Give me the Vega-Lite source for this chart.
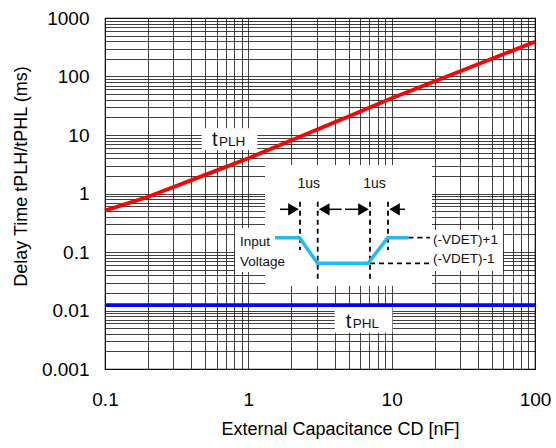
{
  "$schema": "https://vega.github.io/schema/vega-lite/v6.json",
  "width": 430,
  "height": 351,
  "autosize": {"type": "none"},
  "padding": {"left": 105, "top": 18, "right": 21, "bottom": 79},
  "background": "white",
  "config": {
    "font": "Liberation Sans",
    "view": {"stroke": "#000", "strokeWidth": 1.2},
    "axis": {
      "grid": true,
      "gridColor": "#111",
      "gridOpacity": 0.8,
      "gridWidth": 1,
      "ticks": false,
      "domain": false,
      "labelFont": "Liberation Sans",
      "labelFontSize": 19,
      "labelColor": "#000",
      "titleFont": "Liberation Sans",
      "titleFontSize": 18,
      "titleFontWeight": "normal",
      "titleColor": "#000"
    }
  },
  "datasets": {
    "red": [
      {"x": 0.1, "y": 0.51}, {"x": 0.2, "y": 0.88}, {"x": 0.5, "y": 2.08}, {"x": 1, "y": 4.0},
      {"x": 2, "y": 8.1}, {"x": 5, "y": 20.8}, {"x": 10, "y": 42.4}, {"x": 20, "y": 83},
      {"x": 50, "y": 201}, {"x": 100, "y": 394}
    ],
    "blue": [{"x": 0.1, "y": 0.0124}, {"x": 100, "y": 0.0124}],
    "boxes": [
      {"x": 1.307, "x2": 19.11, "y": 3.07, "y2": 0.02623},
      {"x": 0.807, "x2": 1.307, "y": 0.2572, "y2": 0.04549},
      {"x": 18.82, "x2": 59.8, "y": 0.2377, "y2": 0.04733},
      {"x": 0.4728, "x2": 1.155, "y": 13.02, "y2": 5.54},
      {"x": 4.006, "x2": 10.12, "y": 0.0116, "y2": 0.00417}
    ],
    "wave": [
      {"x": 1.535, "y": 0.1755}, {"x": 2.275, "y": 0.1755}, {"x": 3.039, "y": 0.0641},
      {"x": 6.838, "y": 0.0641}, {"x": 9.385, "y": 0.1755}, {"x": 13.07, "y": 0.1755}
    ],
    "vdash": [
      {"x": 2.294, "y": 0.724, "y2": 0.1082},
      {"x": 3.048, "y": 0.724, "y2": 0.0332},
      {"x": 7.062, "y": 0.724, "y2": 0.0332},
      {"x": 9.43, "y": 0.724, "y2": 0.1082}
    ],
    "hdash": [
      {"x": 13.07, "x2": 18.52, "y": 0.1755},
      {"x": 7.062, "x2": 18.52, "y": 0.0641}
    ],
    "shafts": [
      {"x": 1.663, "x2": 2.2, "y": 0.537},
      {"x": 3.2, "x2": 4.481, "y": 0.537},
      {"x": 4.726, "x2": 6.6, "y": 0.537},
      {"x": 9.9, "x2": 12.39, "y": 0.537}
    ],
    "heads": [
      {"x": 2.066, "y": 0.537, "dir": "right"},
      {"x": 3.383, "y": 0.537, "dir": "left"},
      {"x": 6.361, "y": 0.537, "dir": "right"},
      {"x": 10.47, "y": 0.537, "dir": "left"}
    ],
    "small": [
      {"x": 0.875, "y": 0.1483, "label": "Input"},
      {"x": 0.875, "y": 0.0662, "label": "Voltage"},
      {"x": 19.43, "y": 0.1603, "label": "(-VDET)+1"},
      {"x": 19.43, "y": 0.075, "label": "(-VDET)-1"}
    ],
    "us": [
      {"x": 2.642, "y": 1.453, "label": "1us"},
      {"x": 7.591, "y": 1.453, "label": "1us"}
    ],
    "bigt": [
      {"x": 0.5578, "y": 6.56, "label": "t"},
      {"x": 4.778, "y": 0.004961, "label": "t"}
    ],
    "sub": [
      {"x": 0.6242, "y": 6.56, "label": "PLH"},
      {"x": 5.349, "y": 0.004961, "label": "PHL"}
    ]
  },
  "encoding": {
    "x": {
      "field": "x",
      "type": "quantitative",
      "scale": {"type": "log", "domain": [0.1, 100], "nice": false},
      "axis": {
        "title": "External Capacitance CD [nF]",
        "values": [0.1, 0.2, 0.3, 0.4, 0.5, 0.6, 0.7, 0.8, 0.9, 1, 2, 3, 4, 5, 6, 7, 8, 9, 10, 20, 30, 40, 50, 60, 70, 80, 90, 100],
        "format": "~g",
        "labelExpr": "indexof(['0.1','1','10','100'], datum.label) >= 0 ? datum.label : ''",
        "labelPadding": 21,
        "labelFlush": false,
        "labelOverlap": false,
        "titlePadding": 11,
        "titleX": 235
      }
    },
    "y": {
      "field": "y",
      "type": "quantitative",
      "scale": {"type": "log", "domain": [0.001, 1000], "nice": false},
      "axis": {
        "title": "Delay Time tPLH/tPHL (ms)",
        "values": [0.001, 0.002, 0.003, 0.004, 0.005, 0.006, 0.007, 0.008, 0.009, 0.01, 0.02, 0.03, 0.04, 0.05, 0.06, 0.07, 0.08, 0.09, 0.1, 0.2, 0.3, 0.4, 0.5, 0.6, 0.7, 0.8, 0.9, 1, 2, 3, 4, 5, 6, 7, 8, 9, 10, 20, 30, 40, 50, 60, 70, 80, 90, 100, 200, 300, 400, 500, 600, 700, 800, 900, 1000],
        "format": "~g",
        "labelExpr": "indexof(['0.001','0.01','0.1','1','10','100','1000'], datum.label) >= 0 ? datum.label : ''",
        "labelPadding": 16,
        "labelFlush": false,
        "labelOverlap": false,
        "titlePadding": 11,
        "titleY": 158
      }
    }
  },
  "layer": [
    {
      "data": {"name": "boxes"},
      "mark": {"type": "rect", "fill": "white", "stroke": null},
      "encoding": {"x2": {"field": "x2"}, "y2": {"field": "y2"}}
    },
    {
      "data": {"name": "vdash"},
      "mark": {"type": "rule", "color": "black", "strokeWidth": 1.8, "strokeDash": [5, 4]},
      "encoding": {"y2": {"field": "y2"}}
    },
    {
      "data": {"name": "hdash"},
      "mark": {"type": "rule", "color": "black", "strokeWidth": 1.8, "strokeDash": [5, 4]},
      "encoding": {"x2": {"field": "x2"}}
    },
    {
      "data": {"name": "shafts"},
      "mark": {"type": "rule", "color": "black", "strokeWidth": 1.5},
      "encoding": {"x2": {"field": "x2"}}
    },
    {
      "data": {"name": "heads"},
      "mark": {"type": "point", "filled": true, "color": "black", "opacity": 1, "size": 150},
      "encoding": {
        "shape": {"field": "dir", "type": "nominal", "scale": {"domain": ["right", "left"], "range": ["triangle-right", "triangle-left"]}, "legend": null}
      }
    },
    {
      "data": {"name": "wave"},
      "mark": {"type": "line", "color": "#1cbdf0", "strokeWidth": 3.5, "strokeCap": "butt"},
      "encoding": {}
    },
    {
      "data": {"name": "red"},
      "mark": {"type": "line", "color": "#ff0000", "strokeWidth": 3.8, "clip": false},
      "encoding": {}
    },
    {
      "data": {"name": "blue"},
      "mark": {"type": "line", "color": "#0000ff", "strokeWidth": 3.8, "clip": false},
      "encoding": {}
    },
    {
      "data": {"name": "small"},
      "mark": {"type": "text", "align": "left", "baseline": "middle", "fontSize": 13.5, "color": "#111"},
      "encoding": {"text": {"field": "label"}}
    },
    {
      "data": {"name": "us"},
      "mark": {"type": "text", "align": "center", "baseline": "middle", "fontSize": 14, "color": "#111"},
      "encoding": {"text": {"field": "label"}}
    },
    {
      "data": {"name": "bigt"},
      "mark": {"type": "text", "align": "left", "baseline": "alphabetic", "fontSize": 20, "color": "#111"},
      "encoding": {"text": {"field": "label"}}
    },
    {
      "data": {"name": "sub"},
      "mark": {"type": "text", "align": "left", "baseline": "alphabetic", "fontSize": 13.5, "color": "#111"},
      "encoding": {"text": {"field": "label"}}
    }
  ]
}
